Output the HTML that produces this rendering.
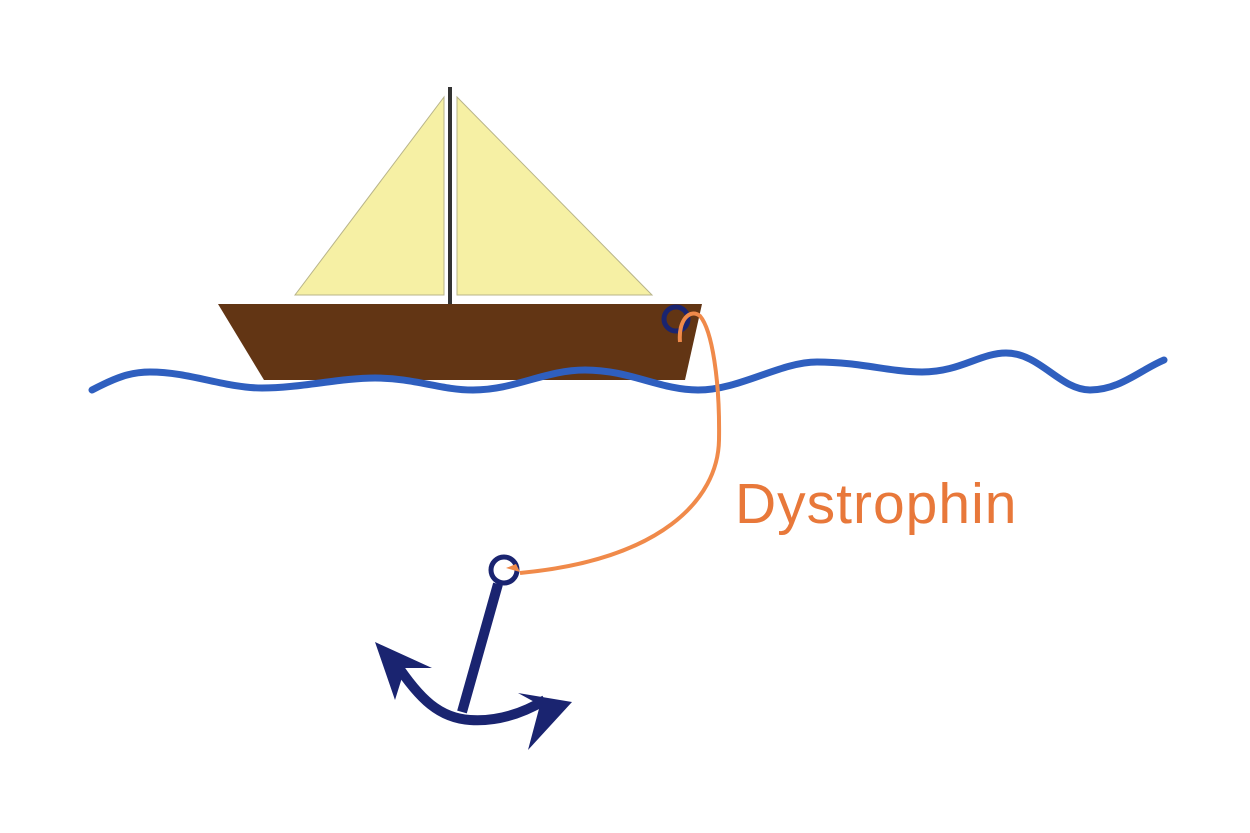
<!DOCTYPE html>
<html><head><style>html,body{margin:0;padding:0;background:#fff;}svg{display:block}</style></head>
<body>
<svg width="1250" height="833" viewBox="0 0 1250 833" xmlns="http://www.w3.org/2000/svg">
<rect width="1250" height="833" fill="#fff"/>
<polygon points="444,97 295,295 444,295" fill="#f6f0a4" stroke="#b8b48a" stroke-width="1"/>
<polygon points="457,97 652,295 457,295" fill="#f6f0a4" stroke="#b8b48a" stroke-width="1"/>
<line x1="450" y1="87" x2="450" y2="305" stroke="#333" stroke-width="4"/>
<polygon points="218,304 702,304 685,380 264,380" fill="#623514"/>
<path d="M92,390 C115,378 130,372 150,372 C190,372 225,388 262,388 C300,388 340,378 375,378 C415,378 440,390 473,390 C515,390 545,370 585,370 C630,370 660,390 698,390 C740,390 780,362 817,362 C860,362 890,372 922,372 C960,372 980,353 1006,353 C1040,353 1060,390 1090,390 C1120,390 1140,370 1164,360" fill="none" stroke="#2f5fbf" stroke-width="7" stroke-linecap="round"/>
<circle cx="676" cy="319" r="12" fill="none" stroke="#1a2470" stroke-width="5"/>
<path d="M680,342 C678,320 690,308 700,316 C712,330 720,380 719,440 C718,500 660,560 520,573" fill="none" stroke="#f08a4a" stroke-width="4"/>
<circle cx="504" cy="570" r="13" fill="none" stroke="#1a2470" stroke-width="5"/>
<path d="M506,568 l10,-4 l4,8 z" fill="#f08a4a"/>
<line x1="498" y1="584" x2="462" y2="712" stroke="#1a2470" stroke-width="10"/>
<path d="M395,662 C420,700 440,718 470,720 C500,722 525,712 545,700" fill="none" stroke="#1a2470" stroke-width="10"/>
<polygon points="375,642 432,668 405,668 395,700" fill="#1a2470"/>
<polygon points="572,702 518,693 540,705 528,750" fill="#1a2470"/>
<text x="735" y="523" font-family="Liberation Sans, sans-serif" font-size="57" fill="#e8783a" letter-spacing="1">Dystrophin</text>
</svg>
</body></html>
